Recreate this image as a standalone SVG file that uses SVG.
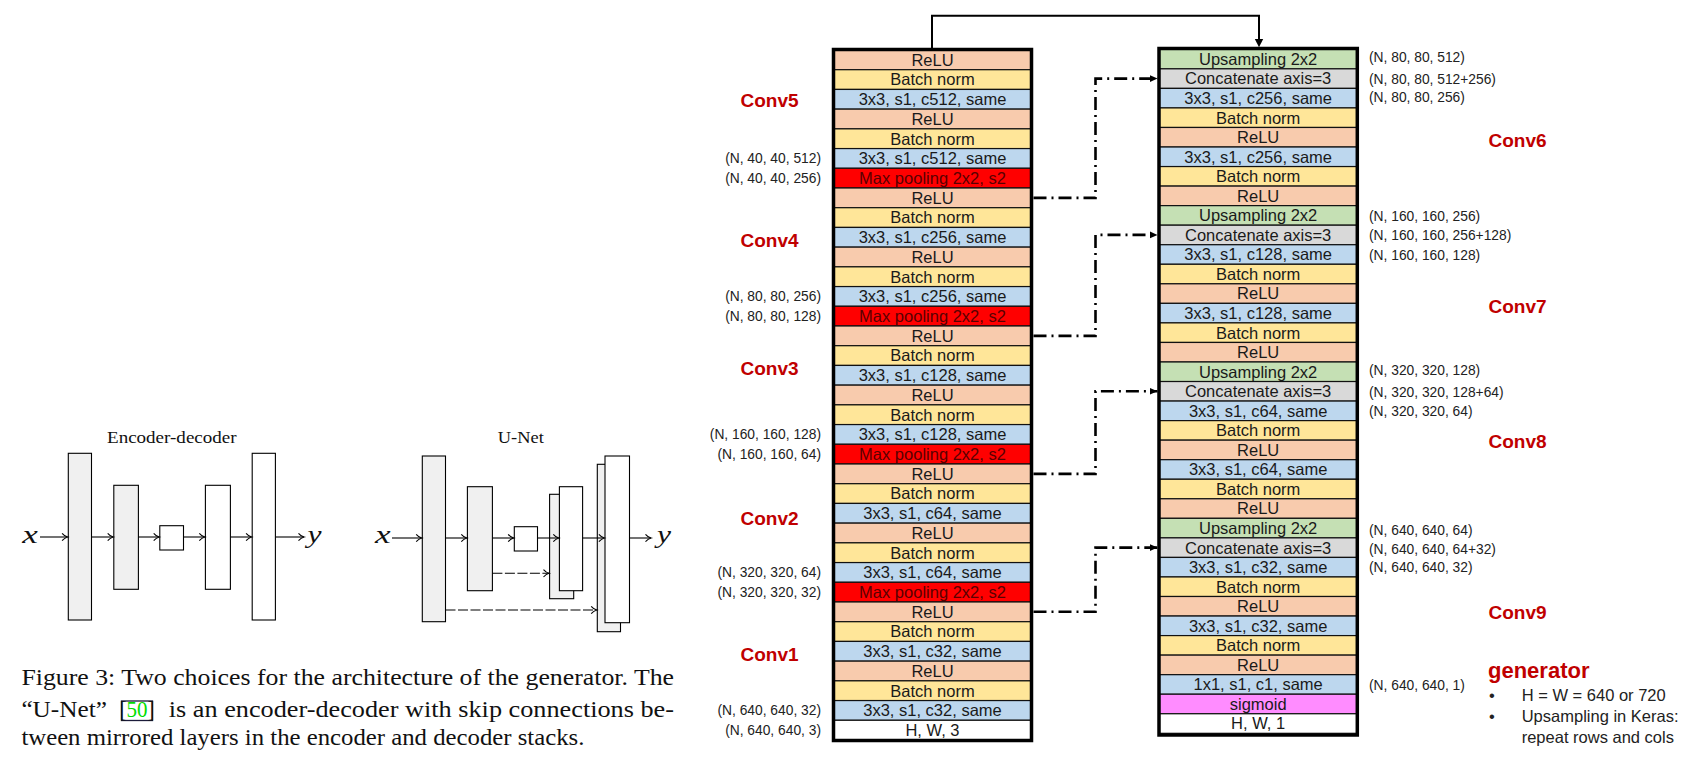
<svg xmlns="http://www.w3.org/2000/svg" width="1686" height="762" viewBox="0 0 1686 762">
<defs>
<style>
.relu{fill:#f8cbad}
.bn{fill:#ffe699}
.cv{fill:#bdd7ee}
.mp{fill:#ff0000}
.up{fill:#c5e0b4}
.cat{fill:#d9d9d9}
.sig{fill:#ff8cff}
.io{fill:#ffffff}
.row rect{stroke:#111;stroke-width:1.2}
.row text{font-family:"Liberation Sans",Arial,sans-serif;font-size:16.5px;fill:#1a1a1a;text-anchor:middle}
.row text.mpt{fill:#5a0000}
.frame{fill:none;stroke:#000;stroke-width:3.5}
.shape{font-family:"Liberation Sans",Arial,sans-serif;font-size:13.8px;fill:#222}
.shape.l{text-anchor:end}
.conv{font-family:"Liberation Sans",Arial,sans-serif;font-size:19px;font-weight:bold;fill:#c00000;text-anchor:middle}
.skip{fill:none;stroke:#000;stroke-width:2.6;stroke-dasharray:13 5 2 5}
.solid{fill:none;stroke:#000;stroke-width:2}
.blk{fill:#f0f0f0;stroke:#000;stroke-width:1.1}
.wht{fill:#ffffff;stroke:#000;stroke-width:1.1}
.arr{fill:none;stroke:#000;stroke-width:1.1}
.dash{fill:none;stroke:#000;stroke-width:1.1;stroke-dasharray:10 2.5}
.ser{font-family:"Liberation Serif","Times New Roman",serif;fill:#111}
.bul{font-family:"Liberation Sans",Arial,sans-serif;font-size:16.5px;fill:#222}
</style>
<marker id="tri" markerWidth="9" markerHeight="9" refX="8" refY="4" orient="auto" markerUnits="userSpaceOnUse">
<path d="M0,0.5 L8,4 L0,7.5 Z" fill="#000"/>
</marker>
<marker id="oa" markerWidth="10" markerHeight="10" refX="7" refY="5" orient="auto" markerUnits="userSpaceOnUse">
<path d="M1.5,1.3 Q4,4.2 7,5 Q4,5.8 1.5,8.7" fill="none" stroke="#000" stroke-width="1.1"/>
</marker>
</defs>
<rect width="1686" height="762" fill="#ffffff"/>

<!-- Left panel: pix2pix figure -->
<g id="fig-encdec">
<text class="ser" x="107" y="442.7" font-size="16.5" textLength="129.6" lengthAdjust="spacingAndGlyphs">Encoder-decoder</text>
<text class="ser" x="22.3" y="543.3" font-size="26" font-style="italic" textLength="15.6" lengthAdjust="spacingAndGlyphs">x</text>
<rect class="blk" x="68.3" y="453.3" width="23.2" height="166.7"/>
<rect class="blk" x="113.8" y="485.3" width="24.6" height="104"/>
<rect class="wht" x="159.8" y="525.7" width="23.7" height="24.3"/>
<rect class="wht" x="205.4" y="485.3" width="25" height="104"/>
<rect class="wht" x="252.2" y="453.3" width="23.2" height="166.7"/>
<path class="arr" marker-end="url(#oa)" d="M40,537 H67.6"/>
<path class="arr" marker-end="url(#oa)" d="M91.5,537 H113.2"/>
<path class="arr" marker-end="url(#oa)" d="M138.4,537 H159.2"/>
<path class="arr" marker-end="url(#oa)" d="M183.5,537 H204.8"/>
<path class="arr" marker-end="url(#oa)" d="M230.4,537 H251.6"/>
<path class="arr" marker-end="url(#oa)" d="M275.4,537 H304"/>
<text class="ser" x="307.5" y="543.3" font-size="26" font-style="italic" textLength="14" lengthAdjust="spacingAndGlyphs">y</text>
</g>
<g id="fig-unet">
<text class="ser" x="497.8" y="442.7" font-size="16.5" textLength="46" lengthAdjust="spacingAndGlyphs">U-Net</text>
<text class="ser" x="375" y="543.3" font-size="26" font-style="italic" textLength="15.6" lengthAdjust="spacingAndGlyphs">x</text>
<rect class="blk" x="422.3" y="456" width="23.2" height="165.7"/>
<rect class="blk" x="467.4" y="486.7" width="25" height="104"/>
<rect class="wht" x="514.3" y="526.7" width="23.2" height="24.3"/>
<rect class="blk" x="549.6" y="494.3" width="24.1" height="104.4"/>
<rect class="wht" x="559.4" y="486.7" width="23.2" height="104"/>
<rect class="blk" x="597.3" y="464.3" width="23.2" height="167.4"/>
<rect class="wht" x="605" y="456" width="24.5" height="166.7"/>
<path class="arr" marker-end="url(#oa)" d="M392,538 H421.7"/>
<path class="arr" marker-end="url(#oa)" d="M445.5,538 H466.8"/>
<path class="arr" marker-end="url(#oa)" d="M492.4,538 H513.7"/>
<path class="arr" marker-end="url(#oa)" d="M537.5,538 H558.8"/>
<path class="arr" marker-end="url(#oa)" d="M582.6,538 H604.4"/>
<path class="arr" marker-end="url(#oa)" d="M629.5,538 H651"/>
<path class="dash" marker-end="url(#oa)" d="M492.4,573.3 H549"/>
<path class="dash" marker-end="url(#oa)" d="M445.5,610 H596.7"/>
<text class="ser" x="657" y="543.3" font-size="26" font-style="italic" textLength="14" lengthAdjust="spacingAndGlyphs">y</text>
</g>
<g id="caption">
<text class="ser" x="21.4" y="685" font-size="22.5" textLength="652.6" lengthAdjust="spacingAndGlyphs">Figure 3: Two choices for the architecture of the generator. The</text>
<text class="ser" x="21.4" y="717" font-size="22.5" textLength="85.6" lengthAdjust="spacingAndGlyphs">“U-Net”</text>
<rect x="121.5" y="701" width="31" height="19.5" fill="none" stroke="#1b1b3a" stroke-width="1.3"/>
<text class="ser" x="119.5" y="717" font-size="22.5" textLength="35" lengthAdjust="spacingAndGlyphs">[<tspan fill="#00dd00">50</tspan>]</text>
<text class="ser" x="168.8" y="717" font-size="22.5" textLength="505.2" lengthAdjust="spacingAndGlyphs">is an encoder-decoder with skip connections be-</text>
<text class="ser" x="21.4" y="745" font-size="22.5" textLength="563" lengthAdjust="spacingAndGlyphs">tween mirrored layers in the encoder and decoder stacks.</text>
</g>

<!-- Encoder stack -->
<g id="encoder">
<g id="e01" class="row" transform="translate(833.5,50)"><rect class="relu" width="198" height="19.71"/><text x="99" y="15.7">ReLU</text></g>
<g id="e02" class="row" transform="translate(833.5,69.71)"><rect class="bn" width="198" height="19.71"/><text x="99" y="15.7">Batch norm</text></g>
<g id="e03" class="row" transform="translate(833.5,89.43)"><rect class="cv" width="198" height="19.71"/><text x="99" y="15.7">3x3, s1, c512, same</text></g>
<g id="e04" class="row" transform="translate(833.5,109.14)"><rect class="relu" width="198" height="19.71"/><text x="99" y="15.7">ReLU</text></g>
<g id="e05" class="row" transform="translate(833.5,128.86)"><rect class="bn" width="198" height="19.71"/><text x="99" y="15.7">Batch norm</text></g>
<g id="e06" class="row" transform="translate(833.5,148.57)"><rect class="cv" width="198" height="19.71"/><text x="99" y="15.7">3x3, s1, c512, same</text></g>
<g id="e07" class="row" transform="translate(833.5,168.28)"><rect class="mp" width="198" height="19.71"/><text class="mpt" x="99" y="15.7">Max pooling 2x2, s2</text></g>
<g id="e08" class="row" transform="translate(833.5,188)"><rect class="relu" width="198" height="19.71"/><text x="99" y="15.7">ReLU</text></g>
<g id="e09" class="row" transform="translate(833.5,207.71)"><rect class="bn" width="198" height="19.71"/><text x="99" y="15.7">Batch norm</text></g>
<g id="e10" class="row" transform="translate(833.5,227.43)"><rect class="cv" width="198" height="19.71"/><text x="99" y="15.7">3x3, s1, c256, same</text></g>
<g id="e11" class="row" transform="translate(833.5,247.14)"><rect class="relu" width="198" height="19.71"/><text x="99" y="15.7">ReLU</text></g>
<g id="e12" class="row" transform="translate(833.5,266.85)"><rect class="bn" width="198" height="19.71"/><text x="99" y="15.7">Batch norm</text></g>
<g id="e13" class="row" transform="translate(833.5,286.57)"><rect class="cv" width="198" height="19.71"/><text x="99" y="15.7">3x3, s1, c256, same</text></g>
<g id="e14" class="row" transform="translate(833.5,306.28)"><rect class="mp" width="198" height="19.71"/><text class="mpt" x="99" y="15.7">Max pooling 2x2, s2</text></g>
<g id="e15" class="row" transform="translate(833.5,326)"><rect class="relu" width="198" height="19.71"/><text x="99" y="15.7">ReLU</text></g>
<g id="e16" class="row" transform="translate(833.5,345.71)"><rect class="bn" width="198" height="19.71"/><text x="99" y="15.7">Batch norm</text></g>
<g id="e17" class="row" transform="translate(833.5,365.42)"><rect class="cv" width="198" height="19.71"/><text x="99" y="15.7">3x3, s1, c128, same</text></g>
<g id="e18" class="row" transform="translate(833.5,385.14)"><rect class="relu" width="198" height="19.71"/><text x="99" y="15.7">ReLU</text></g>
<g id="e19" class="row" transform="translate(833.5,404.85)"><rect class="bn" width="198" height="19.71"/><text x="99" y="15.7">Batch norm</text></g>
<g id="e20" class="row" transform="translate(833.5,424.57)"><rect class="cv" width="198" height="19.71"/><text x="99" y="15.7">3x3, s1, c128, same</text></g>
<g id="e21" class="row" transform="translate(833.5,444.28)"><rect class="mp" width="198" height="19.71"/><text class="mpt" x="99" y="15.7">Max pooling 2x2, s2</text></g>
<g id="e22" class="row" transform="translate(833.5,464)"><rect class="relu" width="198" height="19.71"/><text x="99" y="15.7">ReLU</text></g>
<g id="e23" class="row" transform="translate(833.5,483.71)"><rect class="bn" width="198" height="19.71"/><text x="99" y="15.7">Batch norm</text></g>
<g id="e24" class="row" transform="translate(833.5,503.42)"><rect class="cv" width="198" height="19.71"/><text x="99" y="15.7">3x3, s1, c64, same</text></g>
<g id="e25" class="row" transform="translate(833.5,523.14)"><rect class="relu" width="198" height="19.71"/><text x="99" y="15.7">ReLU</text></g>
<g id="e26" class="row" transform="translate(833.5,542.85)"><rect class="bn" width="198" height="19.71"/><text x="99" y="15.7">Batch norm</text></g>
<g id="e27" class="row" transform="translate(833.5,562.57)"><rect class="cv" width="198" height="19.71"/><text x="99" y="15.7">3x3, s1, c64, same</text></g>
<g id="e28" class="row" transform="translate(833.5,582.28)"><rect class="mp" width="198" height="19.71"/><text class="mpt" x="99" y="15.7">Max pooling 2x2, s2</text></g>
<g id="e29" class="row" transform="translate(833.5,601.99)"><rect class="relu" width="198" height="19.71"/><text x="99" y="15.7">ReLU</text></g>
<g id="e30" class="row" transform="translate(833.5,621.71)"><rect class="bn" width="198" height="19.71"/><text x="99" y="15.7">Batch norm</text></g>
<g id="e31" class="row" transform="translate(833.5,641.42)"><rect class="cv" width="198" height="19.71"/><text x="99" y="15.7">3x3, s1, c32, same</text></g>
<g id="e32" class="row" transform="translate(833.5,661.14)"><rect class="relu" width="198" height="19.71"/><text x="99" y="15.7">ReLU</text></g>
<g id="e33" class="row" transform="translate(833.5,680.85)"><rect class="bn" width="198" height="19.71"/><text x="99" y="15.7">Batch norm</text></g>
<g id="e34" class="row" transform="translate(833.5,700.56)"><rect class="cv" width="198" height="19.71"/><text x="99" y="15.7">3x3, s1, c32, same</text></g>
<g id="e35" class="row" transform="translate(833.5,720.28)"><rect class="io" width="198" height="19.72"/><text x="99" y="15.7">H, W, 3</text></g>
<rect class="frame" x="833.5" y="49.5" width="198" height="691"/>
</g>

<!-- Decoder stack -->
<g id="decoder">
<g id="d01" class="row" transform="translate(1159,49.3)"><rect class="up" width="198.3" height="19.54"/><text x="99.15" y="15.67">Upsampling 2x2</text></g>
<g id="d02" class="row" transform="translate(1159,68.84)"><rect class="cat" width="198.3" height="19.54"/><text x="99.15" y="15.67">Concatenate axis=3</text></g>
<g id="d03" class="row" transform="translate(1159,88.39)"><rect class="cv" width="198.3" height="19.54"/><text x="99.15" y="15.67">3x3, s1, c256, same</text></g>
<g id="d04" class="row" transform="translate(1159,107.93)"><rect class="bn" width="198.3" height="19.54"/><text x="99.15" y="15.67">Batch norm</text></g>
<g id="d05" class="row" transform="translate(1159,127.47)"><rect class="relu" width="198.3" height="19.54"/><text x="99.15" y="15.67">ReLU</text></g>
<g id="d06" class="row" transform="translate(1159,147.02)"><rect class="cv" width="198.3" height="19.54"/><text x="99.15" y="15.67">3x3, s1, c256, same</text></g>
<g id="d07" class="row" transform="translate(1159,166.56)"><rect class="bn" width="198.3" height="19.54"/><text x="99.15" y="15.67">Batch norm</text></g>
<g id="d08" class="row" transform="translate(1159,186.1)"><rect class="relu" width="198.3" height="19.54"/><text x="99.15" y="15.67">ReLU</text></g>
<g id="d09" class="row" transform="translate(1159,205.64)"><rect class="up" width="198.3" height="19.54"/><text x="99.15" y="15.67">Upsampling 2x2</text></g>
<g id="d10" class="row" transform="translate(1159,225.19)"><rect class="cat" width="198.3" height="19.54"/><text x="99.15" y="15.67">Concatenate axis=3</text></g>
<g id="d11" class="row" transform="translate(1159,244.73)"><rect class="cv" width="198.3" height="19.54"/><text x="99.15" y="15.67">3x3, s1, c128, same</text></g>
<g id="d12" class="row" transform="translate(1159,264.27)"><rect class="bn" width="198.3" height="19.54"/><text x="99.15" y="15.67">Batch norm</text></g>
<g id="d13" class="row" transform="translate(1159,283.82)"><rect class="relu" width="198.3" height="19.54"/><text x="99.15" y="15.67">ReLU</text></g>
<g id="d14" class="row" transform="translate(1159,303.36)"><rect class="cv" width="198.3" height="19.54"/><text x="99.15" y="15.67">3x3, s1, c128, same</text></g>
<g id="d15" class="row" transform="translate(1159,322.9)"><rect class="bn" width="198.3" height="19.54"/><text x="99.15" y="15.67">Batch norm</text></g>
<g id="d16" class="row" transform="translate(1159,342.45)"><rect class="relu" width="198.3" height="19.54"/><text x="99.15" y="15.67">ReLU</text></g>
<g id="d17" class="row" transform="translate(1159,361.99)"><rect class="up" width="198.3" height="19.54"/><text x="99.15" y="15.67">Upsampling 2x2</text></g>
<g id="d18" class="row" transform="translate(1159,381.53)"><rect class="cat" width="198.3" height="19.54"/><text x="99.15" y="15.67">Concatenate axis=3</text></g>
<g id="d19" class="row" transform="translate(1159,401.07)"><rect class="cv" width="198.3" height="19.54"/><text x="99.15" y="15.67">3x3, s1, c64, same</text></g>
<g id="d20" class="row" transform="translate(1159,420.62)"><rect class="bn" width="198.3" height="19.54"/><text x="99.15" y="15.67">Batch norm</text></g>
<g id="d21" class="row" transform="translate(1159,440.16)"><rect class="relu" width="198.3" height="19.54"/><text x="99.15" y="15.67">ReLU</text></g>
<g id="d22" class="row" transform="translate(1159,459.7)"><rect class="cv" width="198.3" height="19.54"/><text x="99.15" y="15.67">3x3, s1, c64, same</text></g>
<g id="d23" class="row" transform="translate(1159,479.25)"><rect class="bn" width="198.3" height="19.54"/><text x="99.15" y="15.67">Batch norm</text></g>
<g id="d24" class="row" transform="translate(1159,498.79)"><rect class="relu" width="198.3" height="19.54"/><text x="99.15" y="15.67">ReLU</text></g>
<g id="d25" class="row" transform="translate(1159,518.33)"><rect class="up" width="198.3" height="19.54"/><text x="99.15" y="15.67">Upsampling 2x2</text></g>
<g id="d26" class="row" transform="translate(1159,537.88)"><rect class="cat" width="198.3" height="19.54"/><text x="99.15" y="15.67">Concatenate axis=3</text></g>
<g id="d27" class="row" transform="translate(1159,557.42)"><rect class="cv" width="198.3" height="19.54"/><text x="99.15" y="15.67">3x3, s1, c32, same</text></g>
<g id="d28" class="row" transform="translate(1159,576.96)"><rect class="bn" width="198.3" height="19.54"/><text x="99.15" y="15.67">Batch norm</text></g>
<g id="d29" class="row" transform="translate(1159,596.5)"><rect class="relu" width="198.3" height="19.54"/><text x="99.15" y="15.67">ReLU</text></g>
<g id="d30" class="row" transform="translate(1159,616.05)"><rect class="cv" width="198.3" height="19.54"/><text x="99.15" y="15.67">3x3, s1, c32, same</text></g>
<g id="d31" class="row" transform="translate(1159,635.59)"><rect class="bn" width="198.3" height="19.54"/><text x="99.15" y="15.67">Batch norm</text></g>
<g id="d32" class="row" transform="translate(1159,655.13)"><rect class="relu" width="198.3" height="19.54"/><text x="99.15" y="15.67">ReLU</text></g>
<g id="d33" class="row" transform="translate(1159,674.68)"><rect class="cv" width="198.3" height="19.54"/><text x="99.15" y="15.67">1x1, s1, c1, same</text></g>
<g id="d34" class="row" transform="translate(1159,694.22)"><rect class="sig" width="198.3" height="19.54"/><text x="99.15" y="15.67">sigmoid</text></g>
<g id="d35" class="row" transform="translate(1159,713.76)"><rect class="io" width="198.3" height="19.54"/><text x="99.15" y="15.67">H, W, 1</text></g>
<rect class="frame" x="1159" y="48.5" width="198.3" height="686.5"/>
</g>

<!-- Connectors -->
<g id="connectors">
<path class="solid" d="M932,48 V15.7 H1259 V40"/>
<polygon points="1254.8,39 1263.2,39 1259,47.2" fill="#000"/>
<path class="skip" marker-end="url(#tri)" d="M1033.5,197.9 H1095.5 V78.6 H1157.5"/>
<path class="skip" marker-end="url(#tri)" d="M1033.5,335.9 H1095.5 V234.9 H1157.5"/>
<path class="skip" marker-end="url(#tri)" d="M1033.5,473.9 H1095.5 V391.3 H1157.5"/>
<path class="skip" marker-end="url(#tri)" d="M1033.5,611.8 H1095.5 V547.6 H1157.5"/>
</g>

<!-- Conv block labels -->
<g id="conv-labels">
<text class="conv" x="769.5" y="106.8">Conv5</text>
<text class="conv" x="769.5" y="246.8">Conv4</text>
<text class="conv" x="769.5" y="375.3">Conv3</text>
<text class="conv" x="769.5" y="524.8">Conv2</text>
<text class="conv" x="769.5" y="660.8">Conv1</text>
<text class="conv" x="1517.5" y="146.8">Conv6</text>
<text class="conv" x="1517.5" y="313.3">Conv7</text>
<text class="conv" x="1517.5" y="447.8">Conv8</text>
<text class="conv" x="1517.5" y="618.8">Conv9</text>
</g>

<!-- Tensor shape labels -->
<g id="shapes-left">
<text class="shape l" x="821" y="163.3">(N, 40, 40, 512)</text>
<text class="shape l" x="821" y="183">(N, 40, 40, 256)</text>
<text class="shape l" x="821" y="301.3">(N, 80, 80, 256)</text>
<text class="shape l" x="821" y="321">(N, 80, 80, 128)</text>
<text class="shape l" x="821" y="439.3">(N, 160, 160, 128)</text>
<text class="shape l" x="821" y="459">(N, 160, 160, 64)</text>
<text class="shape l" x="821" y="577.3">(N, 320, 320, 64)</text>
<text class="shape l" x="821" y="597">(N, 320, 320, 32)</text>
<text class="shape l" x="821" y="715.3">(N, 640, 640, 32)</text>
<text class="shape l" x="821" y="735">(N, 640, 640, 3)</text>
</g>
<g id="shapes-right">
<text class="shape" x="1369" y="62.4">(N, 80, 80, 512)</text>
<text class="shape" x="1369" y="83.9">(N, 80, 80, 512+256)</text>
<text class="shape" x="1369" y="102.4">(N, 80, 80, 256)</text>
<text class="shape" x="1369" y="220.9">(N, 160, 160, 256)</text>
<text class="shape" x="1369" y="239.9">(N, 160, 160, 256+128)</text>
<text class="shape" x="1369" y="260">(N, 160, 160, 128)</text>
<text class="shape" x="1369" y="374.9">(N, 320, 320, 128)</text>
<text class="shape" x="1369" y="397.4">(N, 320, 320, 128+64)</text>
<text class="shape" x="1369" y="415.7">(N, 320, 320, 64)</text>
<text class="shape" x="1369" y="534.5">(N, 640, 640, 64)</text>
<text class="shape" x="1369" y="553.5">(N, 640, 640, 64+32)</text>
<text class="shape" x="1369" y="571.5">(N, 640, 640, 32)</text>
<text class="shape" x="1369" y="689.9">(N, 640, 640, 1)</text>
</g>

<!-- Notes -->
<g id="notes">
<text x="1488" y="678" font-family="'Liberation Sans',Arial,sans-serif" font-size="22" font-weight="bold" fill="#c00000">generator</text>
<text class="bul" x="1489" y="701">•</text>
<text class="bul" x="1521.7" y="701">H = W = 640 or 720</text>
<text class="bul" x="1489" y="722">•</text>
<text class="bul" x="1521.7" y="722">Upsampling in Keras:</text>
<text class="bul" x="1521.7" y="742.5">repeat rows and cols</text>
</g>
</svg>
